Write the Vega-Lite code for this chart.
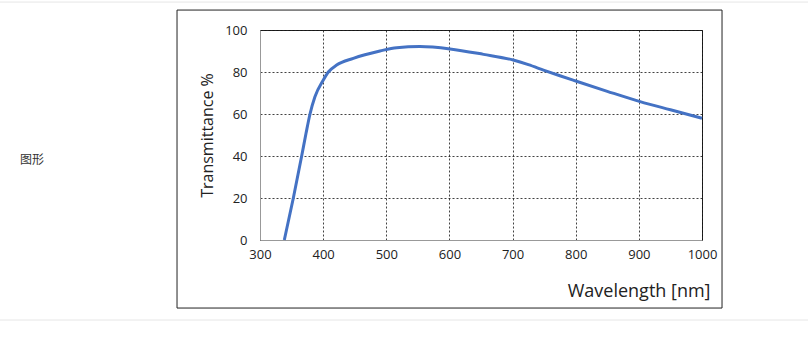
{
  "$schema": "https://vega.github.io/schema/vega-lite/v6.json",
  "width": 442,
  "height": 210,
  "autosize": {"type": "none"},
  "padding": {"left": 260, "top": 30, "right": 106, "bottom": 103},
  "background": "white",
  "config": {
    "view": {"stroke": "#222", "strokeWidth": 1},
    "font": "Open Sans",
    "axis": {
      "labelFont": "Open Sans",
      "titleFont": "Open Sans",
      "labelColor": "#222",
      "titleColor": "#222",
      "labelFontSize": 13,
      "ticks": false,
      "grid": true,
      "domainColor": "#999",
      "gridColor": "#111",
      "gridDash": [2, 2],
      "gridOpacity": 1,
      "gridWidth": 0.8
    }
  },
  "resolve": {"axis": {"x": "shared", "y": "shared"}},
  "datasets": {
    "curve": [
      {"wavelength": 338.5, "transmittance": 0},
      {"wavelength": 352.8, "transmittance": 20},
      {"wavelength": 366, "transmittance": 40},
      {"wavelength": 372.9, "transmittance": 50.8},
      {"wavelength": 379.2, "transmittance": 60},
      {"wavelength": 387, "transmittance": 68.2},
      {"wavelength": 400.3, "transmittance": 76.2},
      {"wavelength": 408.2, "transmittance": 80},
      {"wavelength": 421.4, "transmittance": 83.3},
      {"wavelength": 447.8, "transmittance": 86.5},
      {"wavelength": 490, "transmittance": 90},
      {"wavelength": 516.5, "transmittance": 91.6},
      {"wavelength": 553, "transmittance": 92.1},
      {"wavelength": 601, "transmittance": 91.0},
      {"wavelength": 654, "transmittance": 88.4},
      {"wavelength": 701, "transmittance": 85.7},
      {"wavelength": 725, "transmittance": 83.5},
      {"wavelength": 750, "transmittance": 80.8},
      {"wavelength": 775, "transmittance": 78.2},
      {"wavelength": 800, "transmittance": 75.7},
      {"wavelength": 850, "transmittance": 70.8},
      {"wavelength": 902, "transmittance": 65.9},
      {"wavelength": 950, "transmittance": 62},
      {"wavelength": 1000, "transmittance": 58}
    ]
  },
  "layer": [
    {
      "data": {"name": "curve"},
      "mark": {"type": "line", "color": "#4472C4", "strokeWidth": 3, "interpolate": "monotone"},
      "encoding": {
        "x": {
          "field": "wavelength",
          "type": "quantitative",
          "scale": {"domain": [300, 1000], "nice": false, "zero": false},
          "axis": {
            "values": [300, 400, 500, 600, 700, 800, 900, 1000],
            "format": "d",
            "grid": true,
            "title": "Wavelength [nm]",
            "titleFontSize": 18,
            "titleFontWeight": "normal",
            "titleAnchor": "end",
            "titleAlign": "right",
            "titleBaseline": "middle",
            "titleX": 450,
            "titleY": 51,
            "labelPadding": 8,
            "labelFlush": false
          }
        },
        "y": {
          "field": "transmittance",
          "type": "quantitative",
          "scale": {"domain": [0, 100], "nice": false},
          "axis": {
            "values": [0, 20, 40, 60, 80, 100],
            "grid": true,
            "title": "Transmittance  %",
            "titleFontSize": 16,
            "titleFontWeight": "normal",
            "titlePadding": 9,
            "labelPadding": 13
          }
        }
      }
    },
    {
      "data": {"values": [{"y": 113.3}, {"y": -38.1}]},
      "mark": {"type": "rule", "color": "#e6e6e6", "strokeWidth": 1, "clip": false},
      "encoding": {
        "x": {"datum": -112, "type": "quantitative"},
        "x2": {"datum": 1170},
        "y": {"field": "y", "type": "quantitative"}
      }
    },
    {
      "data": {"values": [{"x1": 168.6, "x2": 1031.7, "y1": 109.5, "y2": -32.4}]},
      "mark": {"type": "rect", "fill": null, "fillOpacity": 0, "stroke": "#222", "strokeWidth": 1, "clip": false},
      "encoding": {
        "x": {"field": "x1", "type": "quantitative"},
        "x2": {"field": "x2"},
        "y": {"field": "y1", "type": "quantitative"},
        "y2": {"field": "y2"}
      }
    },
    {
      "data": {"values": [{"label": "图形", "x": -80, "y": 38.1}]},
      "mark": {"type": "text", "align": "left", "baseline": "middle", "font": "Noto Sans CJK SC", "fontSize": 12, "color": "#333", "clip": false},
      "encoding": {
        "x": {"field": "x", "type": "quantitative"},
        "y": {"field": "y", "type": "quantitative"},
        "text": {"field": "label"}
      }
    }
  ]
}
